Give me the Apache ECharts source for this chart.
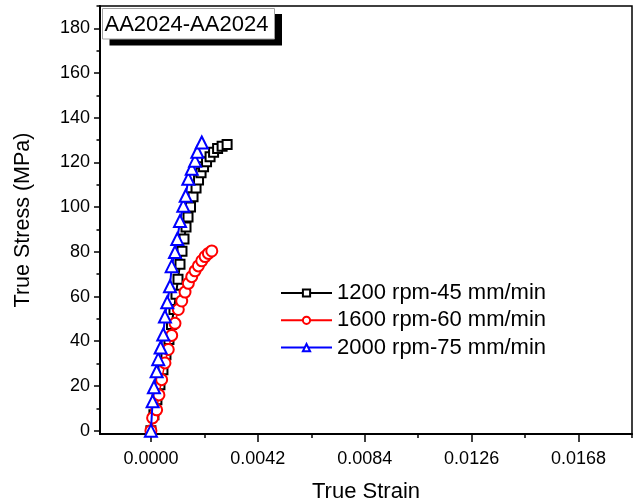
<!DOCTYPE html>
<html>
<head>
<meta charset="utf-8">
<script src="https://cdn.jsdelivr.net/npm/echarts@6/dist/echarts.min.js"></script>
<style>
html,body{margin:0;padding:0;background:#fff;}
#chart{width:638px;height:502px;}
</style>
</head>
<body>
<div id="chart"></div>
<script>
// ---- data ----
var seriesNames = ['1200 rpm-45 mm/min', '1600 rpm-60 mm/min', '2000 rpm-75 mm/min'];

var strain1200 = [0, 0.000118, 0.000236, 0.000355, 0.000473, 0.000591, 0.000709, 0.000808, 0.000906, 0.000985, 0.001064, 0.001143, 0.001221, 0.001300, 0.001379, 0.001458, 0.001556, 0.001655, 0.001773, 0.001871, 0.001970, 0.002068, 0.002186, 0.002324, 0.002462, 0.002620, 0.002797, 0.002994];
var stress1200 = [0, 7.1, 13.8, 20.5, 27.3, 34.0, 40.8, 47.5, 54.2, 61.0, 67.7, 74.5, 80.3, 85.7, 91.1, 95.6, 100.1, 104.6, 108.6, 112.2, 115.4, 118.1, 120.3, 122.6, 124.6, 126.2, 127.3, 128.0];

var strain1600 = [0, 0.000067, 0.000225, 0.000315, 0.000422, 0.000552, 0.000682, 0.000816, 0.000946, 0.001076, 0.001210, 0.001340, 0.001470, 0.001604, 0.001734, 0.001864, 0.001998, 0.002128, 0.002258, 0.002392];
var stress1600 = [0, 5.7, 9.3, 16.0, 22.8, 30.3, 36.3, 42.6, 48.0, 54.2, 58.0, 62.0, 65.9, 68.9, 71.5, 73.7, 76.0, 77.9, 79.3, 80.4];

var strain2000 = [0, 0.000067, 0.000118, 0.000225, 0.000288, 0.000382, 0.000485, 0.000552, 0.000642, 0.000749, 0.000816, 0.000946, 0.001036, 0.001143, 0.001273, 0.001367, 0.001470, 0.001604, 0.001734, 0.001824, 0.001998];
var stress2000 = [0, 13.1, 19.4, 26.6, 32.0, 37.2, 43.0, 51.1, 57.4, 64.6, 73.6, 79.9, 85.7, 93.8, 100.6, 105.1, 112.7, 117.2, 120.8, 124.8, 128.9];

var xMajorTicks = [0, 0.0042, 0.0084, 0.0126, 0.0168];
var xMinorTicks = [0.0021, 0.0063, 0.0105, 0.0147, 0.0189];
var yMajorTicks = [0, 20, 40, 60, 80, 100, 120, 140, 160, 180];
var yMinorTicks = [10, 30, 50, 70, 90, 110, 130, 150, 170, 190];

function pairs(xs, ys) {
  var out = [];
  for (var i = 0; i < xs.length; i++) out.push([xs[i], ys[i]]);
  return out;
}

var FONT = 'Liberation Sans';
var chart = echarts.init(document.getElementById('chart'), null, {renderer: 'canvas'});

var xMin = -0.002, xMax = 0.0189, yMin = -1.5, yMax = 190;

var option = {
  backgroundColor: '#fff',
  animation: false,
  grid: {left: 100, right: 6, top: 6, bottom: 68, containLabel: false, outerBoundsMode: 'none',
    show: true, borderColor: '#000', borderWidth: 1.5, backgroundColor: 'transparent'},
  xAxis: [
    {
      type: 'value', min: xMin, max: xMax, position: 'bottom',
      name: 'True Strain', nameLocation: 'middle', nameGap: 47,
      nameTextStyle: {fontFamily: FONT, fontSize: 22, color: '#000'},
      axisLine: {show: true, onZero: false, lineStyle: {color: '#000', width: 2}},
      axisTick: {show: true, inside: false, length: 8, customValues: xMajorTicks, lineStyle: {color: '#000', width: 1.5}},
      axisLabel: {show: true, margin: 16, customValues: xMajorTicks, fontFamily: FONT, fontSize: 18, color: '#000',
        formatter: function (v) { return Number(v).toFixed(4); }},
      splitLine: {show: false}
    },
    {
      type: 'value', min: xMin, max: xMax, position: 'bottom',
      axisLine: {show: false, onZero: false},
      axisTick: {show: true, inside: false, length: 4, customValues: xMinorTicks, lineStyle: {color: '#000', width: 1.5}},
      axisLabel: {show: false},
      splitLine: {show: false}
    }
  ],
  yAxis: [
    {
      type: 'value', min: yMin, max: yMax, position: 'left',
      name: 'True Stress (MPa)', nameLocation: 'middle', nameGap: 66, nameRotate: 90,
      nameTextStyle: {fontFamily: FONT, fontSize: 21.5, color: '#000'},
      axisLine: {show: true, onZero: false, lineStyle: {color: '#000', width: 2}},
      axisTick: {show: true, inside: false, length: 6, customValues: yMajorTicks, lineStyle: {color: '#000', width: 1.5}},
      axisLabel: {show: true, margin: 10, customValues: yMajorTicks, fontFamily: FONT, fontSize: 18, color: '#000'},
      splitLine: {show: false}
    },
    {
      type: 'value', min: yMin, max: yMax, position: 'left',
      axisLine: {show: false, onZero: false},
      axisTick: {show: true, inside: false, length: 3.5, customValues: yMinorTicks, lineStyle: {color: '#000', width: 1.5}},
      axisLabel: {show: false},
      splitLine: {show: false}
    }
  ],
  legend: {
    orient: 'vertical', left: 280, top: 281, padding: 0,
    itemWidth: 51, itemHeight: 9, itemGap: 3.3,
    textStyle: {fontFamily: FONT, fontSize: 22, color: '#000', lineHeight: 24},
    data: seriesNames
  },
  series: [
    {
      name: seriesNames[0], type: 'line', xAxisIndex: 0, yAxisIndex: 0,
      data: pairs(strain1200, stress1200),
      symbol: 'emptyRect', symbolSize: 9, showAllSymbol: true,
      itemStyle: {color: '#000', borderWidth: 1},
      lineStyle: {color: '#000', width: 2}, z: 2
    },
    {
      name: seriesNames[1], type: 'line', xAxisIndex: 0, yAxisIndex: 0,
      data: pairs(strain1600, stress1600),
      symbol: 'emptyCircle', symbolSize: 11, showAllSymbol: true,
      itemStyle: {color: '#ff0000', borderWidth: 1},
      lineStyle: {color: '#ff0000', width: 1.5}, z: 3
    },
    {
      name: seriesNames[2], type: 'line', xAxisIndex: 0, yAxisIndex: 0,
      data: pairs(strain2000, stress2000),
      symbol: 'emptyTriangle', symbolSize: 12, showAllSymbol: true,
      itemStyle: {color: '#0000ff', borderWidth: 1},
      lineStyle: {color: '#0000ff', width: 2}, z: 4
    }
  ],
  graphic: [
    {type: 'rect', shape: {x: 109.5, y: 14, width: 172.5, height: 31.5}, style: {fill: '#000'}, z: 10},
    {type: 'rect', shape: {x: 102.5, y: 8.5, width: 172, height: 30.5}, style: {fill: '#fff', stroke: '#a0a0a0', lineWidth: 1}, z: 11},
    {type: 'text', x: 104.5, y: 24.5, style: {text: 'AA2024-AA2024', fontFamily: FONT, fontSize: 22, fill: '#000', textVerticalAlign: 'middle', verticalAlign: 'middle'}, z: 12}
  ]
};
chart.setOption(option);
</script>
</body>
</html>
